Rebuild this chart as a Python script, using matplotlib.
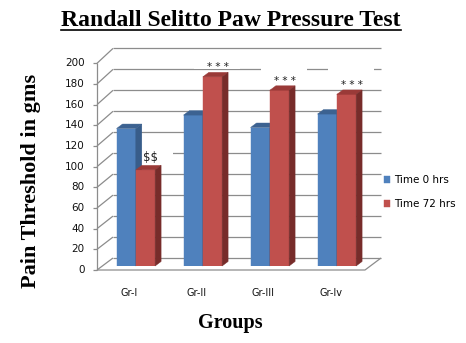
import matplotlib
matplotlib.use('Agg')
import matplotlib.pyplot as plt
from matplotlib.patches import Polygon, Rectangle
from matplotlib.lines import Line2D

groups = ['Gr-I', 'Gr-II', 'Gr-III', 'Gr-Iv']
time_0 = [133, 146, 134, 147]
time_72 = [93, 183, 170, 166]
marks = ['$$', '* * *', '* * *', '* * *']
series_names = ['Time 0 hrs', 'Time 72 hrs']
yticks = list(range(0, 201, 20))

W, H, DPI = 466, 343, 100
fig = plt.figure(figsize=(W / DPI, H / DPI), dpi=DPI)
fig.patch.set_facecolor('white')

# axes = the plane of the bar front faces
ax = fig.add_axes([102.3 / W, 77 / H, 268 / W, 206.7 / H])
ax.set_xlim(-0.5, len(groups) - 0.5)
ax.set_ylim(0, 200)
ax.axis('off')

# data units per pixel, used to fake the 3-D depth
pos = ax.get_position()
sx = (len(groups)) / (pos.width * W)
sy = 200 / (pos.height * H)

FRONT = (-5.3, -4.0)    # floor front edge / value axis, relative to bars
BACK = (10.7, 8.0)      # back wall
STRETCH = 1.014         # back wall is drawn a touch taller
BAR_D = (6.0, 4.5)      # depth of each column

grid_c = '#8c8c8c'
line_kw = dict(color=grid_c, lw=0.9, clip_on=False, zorder=1, solid_capstyle='butt')

x_left, x_right = ax.get_xlim()
fx = x_left + FRONT[0] * sx
bx = x_left + BACK[0] * sx
bx_r = x_right + BACK[0] * sx
fx_r = x_right + FRONT[0] * sx

for v in yticks:
    fy = v + FRONT[1] * sy
    by = v * STRETCH + BACK[1] * sy
    ax.add_line(Line2D([fx, bx], [fy, by], **line_kw))
    ax.add_line(Line2D([bx, bx_r], [by, by], **line_kw))
    ax.add_line(Line2D([fx - 4 * sx, fx], [fy, fy], **line_kw))
    ax.text(fx - 12.5 * sx, fy, str(v), ha='right', va='center',
            fontsize=7.5, color='#111111')

# value axis and floor outline
ax.add_line(Line2D([fx, fx], [FRONT[1] * sy, 200 + FRONT[1] * sy], **line_kw))
ax.add_line(Line2D([fx, fx_r, bx_r], [FRONT[1] * sy, FRONT[1] * sy, BACK[1] * sy], **line_kw))

for i, g in enumerate(groups):
    ax.text(i + FRONT[0] * sx - 1 * sx, FRONT[1] * sy - 22.7 * sy, g,
            ha='center', va='center', fontsize=7, color='#111111')

# columns
w = 0.288
blue = ('#4f81bd', '#3c6291', '#385d8a')
red = ('#c0504d', '#9a3a38', '#772c2a')
dx, dy = BAR_D[0] * sx, BAR_D[1] * sy

handles = []
for vals, offset, cols, z in [(time_0, -w, blue, 3), (time_72, 0, red, 4)]:
    xs = [i + offset for i in range(len(groups))]
    bars = ax.bar(xs, vals, width=w, align='edge', color=cols[0],
                  edgecolor=cols[0], lw=0.3, zorder=z)
    handles.append(bars)
    for x0, val in zip(xs, vals):
        top = [(x0, val), (x0 + w, val), (x0 + w + dx, val + dy), (x0 + dx, val + dy)]
        side = [(x0 + w, 0), (x0 + w + dx, dy), (x0 + w + dx, val + dy), (x0 + w, val)]
        ax.add_patch(Polygon(top, closed=True, fc=cols[1], ec=cols[1], lw=0.3,
                             zorder=z, clip_on=False))
        ax.add_patch(Polygon(side, closed=True, fc=cols[2], ec=cols[2], lw=0.3,
                             zorder=z, clip_on=False))

# significance marks above the 72 hrs columns
for i, (val, m) in enumerate(zip(time_72, marks)):
    xc = i + w / 2 + 5 * sx
    yc = val + 12 * sy
    ax.add_patch(Rectangle((xc - 23 * sx, yc - 4 * sy), 46 * sx, 18 * sy,
                           fc='white', ec='none', zorder=2, clip_on=False))
    is_star = m.startswith('*')
    ax.text(xc, yc - (2.5 * sy if is_star else 0), m, ha='center', va='center',
            fontsize=7.5 if is_star else 8.5,
            color='#222222', zorder=5, clip_on=False, parse_math=False)

fig.legend(handles, series_names, loc='center left',
           bbox_to_anchor=(384 / W, 1 - 192 / H), frameon=False,
           fontsize=7.5, handlelength=0.6, handleheight=0.6,
           handletextpad=0.35, labelspacing=1.35, borderpad=0, borderaxespad=0)

serif = 'Liberation Serif'
title = fig.text(231 / W, 1 - 26 / H, 'Randall Selitto Paw Pressure Test',
                 ha='center', va='baseline', fontsize=17, fontweight='bold',
                 family=serif)
fig.text(31 / W, 1 - 180.5 / H, 'Pain Threshold in gms', rotation=90,
         ha='center', va='center', fontsize=16, fontweight='bold', family=serif)
fig.text(230.5 / W, 1 - 323 / H, 'Groups', ha='center', va='center',
         fontsize=14.5, fontweight='bold', family=serif)

# underline the title
fig.canvas.draw()
bb = title.get_window_extent()
fig.add_artist(Line2D([bb.x0 / W, bb.x1 / W], [(H - 30) / H, (H - 30) / H],
                      color='black', lw=1.2, transform=fig.transFigure))

fig.savefig('out.png', dpi=DPI)
